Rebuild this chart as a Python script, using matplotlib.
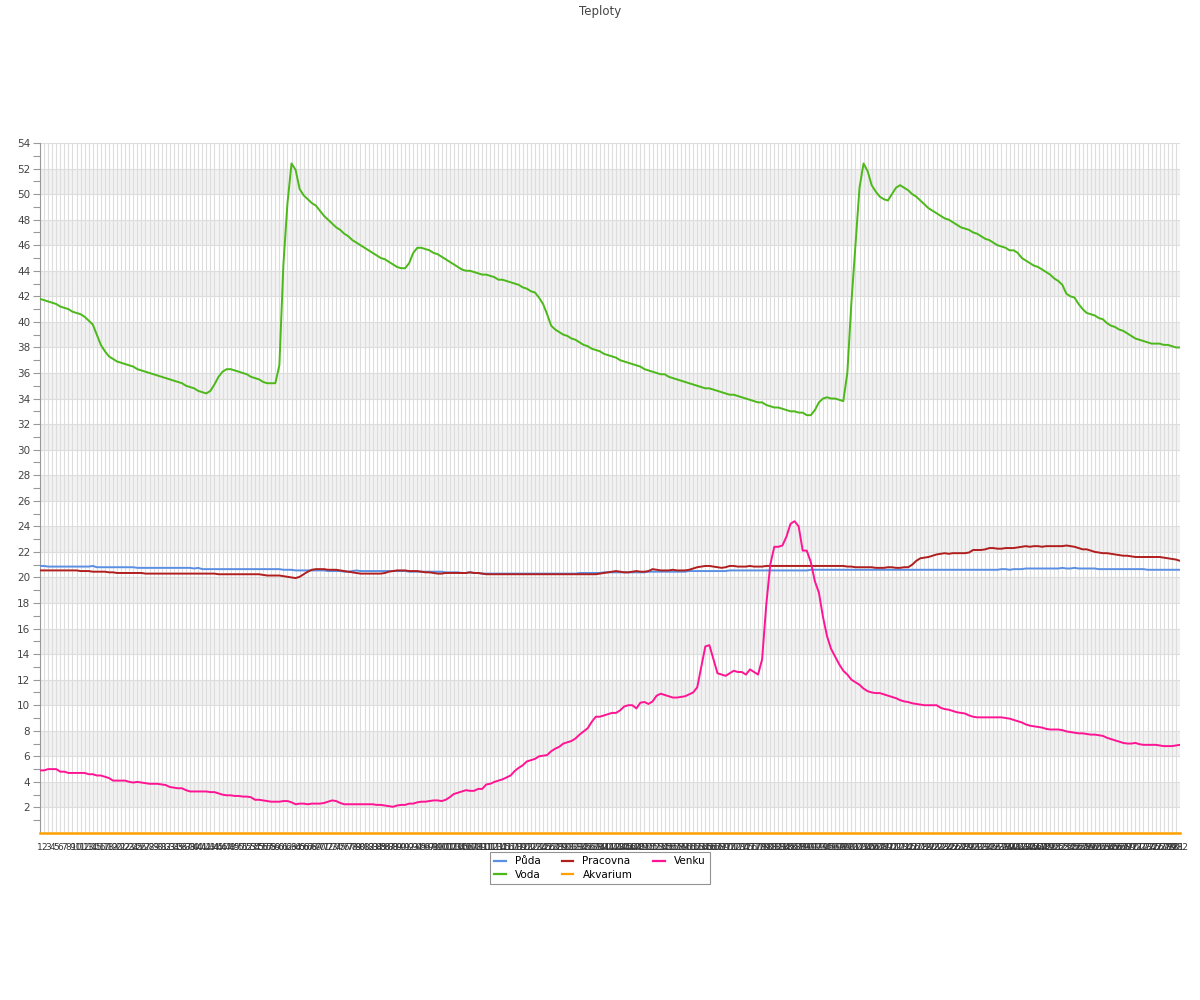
import matplotlib
matplotlib.use('Agg')
import matplotlib.pyplot as plt
from matplotlib.lines import Line2D

# ===========================================================
# Data
# ===========================================================
puda = [
    20.9, 20.9, 20.85, 20.85, 20.85, 20.85, 20.85, 20.85, 20.85, 20.85,
    20.85, 20.85, 20.85, 20.9, 20.8, 20.8, 20.8, 20.8, 20.8, 20.8,
    20.8, 20.8, 20.8, 20.8, 20.75, 20.75, 20.75, 20.75, 20.75, 20.75,
    20.75, 20.75, 20.75, 20.75, 20.75, 20.75, 20.75, 20.75, 20.7, 20.75,
    20.65, 20.65, 20.65, 20.65, 20.65, 20.65, 20.65, 20.65, 20.65, 20.65,
    20.65, 20.65, 20.65, 20.65, 20.65, 20.65, 20.65, 20.65, 20.65, 20.65,
    20.6, 20.6, 20.6, 20.55, 20.55, 20.55, 20.55, 20.55, 20.55, 20.55,
    20.55, 20.5, 20.5, 20.5, 20.5, 20.45, 20.45, 20.5, 20.55, 20.5,
    20.5, 20.5, 20.5, 20.5, 20.5, 20.5, 20.5, 20.5, 20.5, 20.5,
    20.5, 20.45, 20.45, 20.45, 20.45, 20.45, 20.45, 20.45, 20.45, 20.45,
    20.4, 20.4, 20.4, 20.4, 20.35, 20.35, 20.4, 20.35, 20.35, 20.3,
    20.3, 20.3, 20.3, 20.3, 20.3, 20.3, 20.3, 20.3, 20.3, 20.3,
    20.3, 20.3, 20.3, 20.3, 20.3, 20.3, 20.3, 20.3, 20.3, 20.3,
    20.3, 20.3, 20.3, 20.35, 20.35, 20.35, 20.35, 20.35, 20.35, 20.4,
    20.4, 20.4, 20.4, 20.4, 20.4, 20.4, 20.4, 20.4, 20.4, 20.4,
    20.45, 20.45, 20.45, 20.45, 20.45, 20.45, 20.45, 20.45, 20.45, 20.45,
    20.5, 20.5, 20.5, 20.5, 20.5, 20.5, 20.5, 20.5, 20.5, 20.5,
    20.55, 20.55, 20.55, 20.55, 20.55, 20.55, 20.55, 20.55, 20.55, 20.55,
    20.55, 20.55, 20.55, 20.55, 20.55, 20.55, 20.55, 20.55, 20.55, 20.55,
    20.6, 20.6, 20.6, 20.6, 20.6, 20.6, 20.6, 20.6, 20.6, 20.6,
    20.6, 20.6, 20.6, 20.6, 20.6, 20.6, 20.6, 20.6, 20.6, 20.6,
    20.6, 20.6, 20.6, 20.6, 20.6, 20.6, 20.6, 20.6, 20.6, 20.6,
    20.6, 20.6, 20.6, 20.6, 20.6, 20.6, 20.6, 20.6, 20.6, 20.6,
    20.6, 20.6, 20.6, 20.6, 20.6, 20.6, 20.6, 20.65, 20.65, 20.6,
    20.65, 20.65, 20.65, 20.7, 20.7, 20.7, 20.7, 20.7, 20.7, 20.7,
    20.7, 20.7, 20.75, 20.7, 20.7, 20.75, 20.7, 20.7, 20.7, 20.7,
    20.7, 20.65, 20.65, 20.65, 20.65, 20.65, 20.65, 20.65, 20.65, 20.65,
    20.65, 20.65, 20.65, 20.6, 20.6, 20.6, 20.6, 20.6, 20.6, 20.6,
    20.6, 20.6,
]

voda = [
    41.8, 41.7, 41.6, 41.5, 41.4, 41.2, 41.1, 41.0, 40.8, 40.7,
    40.6, 40.4, 40.1, 39.8, 39.0, 38.2, 37.7, 37.3, 37.1, 36.9,
    36.8, 36.7, 36.6, 36.5, 36.3, 36.2, 36.1, 36.0, 35.9, 35.8,
    35.7, 35.6, 35.5, 35.4, 35.3, 35.2, 35.0, 34.9, 34.8, 34.6,
    34.5, 34.4, 34.6, 35.1, 35.7, 36.1, 36.3, 36.3, 36.2, 36.1,
    36.0, 35.9, 35.7, 35.6, 35.5, 35.3, 35.2, 35.2, 35.2, 36.6,
    44.5, 49.3, 52.4, 51.9, 50.4, 49.9, 49.6, 49.3, 49.1, 48.7,
    48.3, 48.0, 47.7, 47.4, 47.2, 46.9, 46.7, 46.4, 46.2, 46.0,
    45.8, 45.6, 45.4, 45.2, 45.0, 44.9, 44.7, 44.5, 44.3, 44.2,
    44.2, 44.6, 45.4, 45.8, 45.8, 45.7, 45.6, 45.4, 45.3, 45.1,
    44.9, 44.7, 44.5, 44.3, 44.1, 44.0, 44.0, 43.9, 43.8, 43.7,
    43.7, 43.6, 43.5, 43.3, 43.3, 43.2, 43.1, 43.0, 42.9, 42.7,
    42.6, 42.4, 42.3, 41.9, 41.4, 40.6, 39.7, 39.4, 39.2, 39.0,
    38.9, 38.7, 38.6, 38.4, 38.2, 38.1, 37.9, 37.8, 37.7, 37.5,
    37.4, 37.3, 37.2, 37.0, 36.9, 36.8, 36.7, 36.6, 36.5, 36.3,
    36.2, 36.1, 36.0, 35.9, 35.9, 35.7, 35.6, 35.5, 35.4, 35.3,
    35.2, 35.1, 35.0, 34.9, 34.8, 34.8, 34.7, 34.6, 34.5, 34.4,
    34.3, 34.3, 34.2, 34.1, 34.0, 33.9, 33.8, 33.7, 33.7, 33.5,
    33.4, 33.3, 33.3, 33.2, 33.1, 33.0, 33.0, 32.9, 32.9, 32.7,
    32.7, 33.1, 33.7, 34.0, 34.1, 34.0, 34.0, 33.9, 33.8, 36.0,
    41.5, 46.0, 50.5, 52.4, 51.8, 50.7, 50.2, 49.8, 49.6, 49.5,
    50.0, 50.5, 50.7, 50.5, 50.3, 50.0, 49.8, 49.5, 49.2, 48.9,
    48.7, 48.5, 48.3, 48.1, 48.0, 47.8, 47.6, 47.4, 47.3, 47.2,
    47.0, 46.9, 46.7, 46.5, 46.4, 46.2, 46.0, 45.9, 45.8, 45.6,
    45.6, 45.4, 45.0, 44.8, 44.6, 44.4, 44.3, 44.1, 43.9, 43.7,
    43.4, 43.2, 42.9, 42.2, 42.0, 41.9, 41.4, 41.0, 40.7, 40.6,
    40.5, 40.3, 40.2, 39.9, 39.7, 39.6, 39.4, 39.3, 39.1, 38.9,
    38.7, 38.6, 38.5, 38.4, 38.3, 38.3, 38.3, 38.2, 38.2, 38.1,
    38.0, 38.0,
]

pracovna = [
    20.55, 20.55, 20.55, 20.55, 20.55, 20.55, 20.55, 20.55, 20.55, 20.55,
    20.5, 20.5, 20.5, 20.45, 20.45, 20.45, 20.45, 20.4, 20.4, 20.35,
    20.35, 20.35, 20.35, 20.35, 20.35, 20.35, 20.3, 20.3, 20.3, 20.3,
    20.3, 20.3, 20.3, 20.3, 20.3, 20.3, 20.3, 20.3, 20.3, 20.3,
    20.3, 20.3, 20.3, 20.3, 20.25, 20.25, 20.25, 20.25, 20.25, 20.25,
    20.25, 20.25, 20.25, 20.25, 20.25, 20.2, 20.15, 20.15, 20.15, 20.15,
    20.1, 20.05, 20.0, 19.95, 20.05, 20.25, 20.45, 20.6, 20.65, 20.65,
    20.65, 20.6, 20.6, 20.6, 20.55, 20.5, 20.45, 20.4, 20.35, 20.3,
    20.3, 20.3, 20.3, 20.3, 20.3, 20.35, 20.45, 20.5, 20.55, 20.55,
    20.55, 20.5, 20.5, 20.5, 20.45, 20.4, 20.4, 20.35, 20.3, 20.3,
    20.35, 20.35, 20.35, 20.35, 20.35, 20.35, 20.4, 20.35, 20.35, 20.3,
    20.25, 20.25, 20.25, 20.25, 20.25, 20.25, 20.25, 20.25, 20.25, 20.25,
    20.25, 20.25, 20.25, 20.25, 20.25, 20.25, 20.25, 20.25, 20.25, 20.25,
    20.25, 20.25, 20.25, 20.25, 20.25, 20.25, 20.25, 20.25, 20.3, 20.35,
    20.4, 20.45, 20.5, 20.45, 20.4, 20.4, 20.45, 20.5, 20.45, 20.45,
    20.5, 20.65, 20.6, 20.55, 20.55, 20.55, 20.6, 20.55, 20.55, 20.55,
    20.6, 20.7, 20.8, 20.85, 20.9, 20.9, 20.85, 20.8, 20.75, 20.8,
    20.9, 20.9, 20.85, 20.85, 20.85, 20.9, 20.85, 20.85, 20.85, 20.9,
    20.9, 20.9, 20.9, 20.9, 20.9, 20.9, 20.9, 20.9, 20.9, 20.9,
    20.9, 20.9, 20.9, 20.9, 20.9, 20.9, 20.9, 20.9, 20.9, 20.85,
    20.85, 20.8, 20.8, 20.8, 20.8, 20.8, 20.75, 20.75, 20.75, 20.8,
    20.8, 20.75, 20.75, 20.8, 20.8, 21.0, 21.3, 21.5, 21.55, 21.6,
    21.7, 21.8, 21.85, 21.9, 21.85, 21.9, 21.9, 21.9, 21.9, 21.95,
    22.15, 22.15, 22.15, 22.2, 22.3, 22.3, 22.25, 22.25, 22.3, 22.3,
    22.3, 22.35, 22.4, 22.45, 22.4, 22.45, 22.45, 22.4, 22.45, 22.45,
    22.45, 22.45, 22.45, 22.5, 22.45, 22.4, 22.3, 22.2, 22.2, 22.1,
    22.0, 21.95, 21.9, 21.9, 21.85, 21.8, 21.75, 21.7, 21.7, 21.65,
    21.6, 21.6, 21.6, 21.6, 21.6, 21.6, 21.6, 21.55, 21.5, 21.45,
    21.4, 21.3,
]

akvarium = [0.0] * len(voda)

venku = [
    4.9, 4.9, 5.0, 5.0, 5.0, 4.8, 4.8, 4.7, 4.7, 4.7,
    4.7, 4.7, 4.6, 4.6, 4.5, 4.5, 4.4, 4.3, 4.1, 4.1,
    4.1, 4.1, 4.0, 3.95, 4.0, 3.95, 3.9, 3.85, 3.85, 3.85,
    3.8, 3.75, 3.6, 3.55, 3.5, 3.5, 3.35, 3.25, 3.25, 3.25,
    3.25, 3.25, 3.2, 3.2, 3.1, 3.0, 2.95, 2.95, 2.9, 2.9,
    2.85, 2.85, 2.8, 2.6, 2.6, 2.55, 2.5, 2.45, 2.45, 2.45,
    2.5, 2.5, 2.4, 2.25, 2.3, 2.3, 2.25, 2.3, 2.3, 2.3,
    2.35, 2.45, 2.55, 2.5, 2.35, 2.25, 2.25, 2.25, 2.25, 2.25,
    2.25, 2.25, 2.25, 2.2, 2.2, 2.15, 2.1, 2.05, 2.15, 2.2,
    2.2, 2.3, 2.3, 2.4, 2.45, 2.45, 2.5, 2.55, 2.55, 2.5,
    2.6, 2.8, 3.05, 3.15, 3.25, 3.35, 3.3, 3.3, 3.45, 3.45,
    3.8, 3.85, 4.0, 4.1, 4.2, 4.35, 4.5, 4.85, 5.1, 5.3,
    5.6, 5.7, 5.8, 6.0, 6.05, 6.1, 6.4, 6.6, 6.75, 7.0,
    7.1, 7.2, 7.4, 7.7, 7.95, 8.2, 8.7, 9.1, 9.1, 9.2,
    9.3, 9.4, 9.4, 9.6, 9.9, 10.0, 10.0, 9.75, 10.2, 10.25,
    10.1, 10.3, 10.75, 10.9, 10.8, 10.7, 10.6, 10.6, 10.65, 10.7,
    10.85, 11.0, 11.4, 13.0, 14.6, 14.7, 13.6, 12.5, 12.4, 12.3,
    12.5, 12.7, 12.6, 12.6, 12.4, 12.8, 12.6, 12.4, 13.6, 17.8,
    21.0, 22.4, 22.4, 22.5, 23.2, 24.2, 24.4, 24.0, 22.1, 22.1,
    21.2, 19.7, 18.8, 16.9, 15.4, 14.4, 13.8, 13.2, 12.7, 12.4,
    12.0, 11.8, 11.6, 11.3, 11.1, 11.0, 10.95, 10.95, 10.85, 10.75,
    10.65, 10.55, 10.4, 10.3, 10.25, 10.15, 10.1, 10.05, 10.0, 10.0,
    10.0, 10.0, 9.8, 9.7, 9.65, 9.55, 9.45, 9.4, 9.35, 9.2,
    9.1, 9.05, 9.05, 9.05, 9.05, 9.05, 9.05, 9.05, 9.0, 8.95,
    8.85, 8.75, 8.65, 8.5, 8.4, 8.35, 8.3, 8.25, 8.15, 8.1,
    8.1, 8.1, 8.05, 7.95, 7.9, 7.85, 7.8, 7.8, 7.75, 7.7,
    7.7, 7.65, 7.6, 7.45, 7.35, 7.25, 7.15, 7.05, 7.0, 7.0,
    7.05, 6.95, 6.9, 6.9, 6.9, 6.9, 6.85, 6.8, 6.8, 6.8,
    6.85, 6.9,
]

# category labels on the x axis (sample numbers)
labels = [str(n) for n in range(1, len(voda) + 1)]

series_names = ['Půda', 'Voda', 'Pracovna', 'Akvarium', 'Venku']
series_colors = ['#5b8fe3', '#4cb81a', '#b01e1e', '#ffa000', '#ff1493']
series_data = [puda, voda, pracovna, akvarium, venku]

# ===========================================================
# Figure
# ===========================================================
fig = plt.figure(figsize=(12, 10), dpi=100)
ax = fig.add_axes([40 / 1200, 167 / 1000, 1140 / 1200, 690 / 1000])

x = list(range(len(labels)))

# alternating grey bands
for lo in range(2, 54, 4):
    ax.axhspan(lo, lo + 2, color='#f2f2f2', zorder=0, lw=0)

ax.set_xlim(0, len(labels) - 1)
ax.set_ylim(0, 54)

ax.set_xticks(x)
ax.set_xticklabels(labels, fontsize=6.5, color='#333333')
ax.set_yticks(range(2, 55, 2))
ax.set_yticks(range(1, 55, 2), minor=True)
ax.tick_params(axis='y', which='both', length=5, width=0.8, color='#999999',
               labelsize=7.5, labelcolor='#444444', pad=2)
ax.tick_params(axis='x', length=0, pad=7)

ax.grid(True, axis='both', color='#dddddd', lw=0.8, zorder=1)
ax.set_axisbelow(True)

for s in ['top', 'right']:
    ax.spines[s].set_visible(False)
ax.spines['left'].set_color('#999999')
ax.spines['bottom'].set_color('#999999')

for name, col, vals in zip(series_names, series_colors, series_data):
    is_base = (name == 'Akvarium')
    ax.plot(x, vals, color=col, lw=1.8 if is_base else 1.4, label=name,
            zorder=4 if is_base else 3, clip_on=not is_base)

handles = [Line2D([0], [0], color=c, lw=1.6) for c in series_colors]
leg = fig.legend(handles, series_names, loc='upper center',
                 bbox_to_anchor=(0.5, 0.153), ncol=3, fontsize=7.5,
                 frameon=True, fancybox=False, edgecolor='#777777',
                 handlelength=1.1, handletextpad=0.9, columnspacing=2.0,
                 borderpad=0.4, labelspacing=0.3)
leg.get_frame().set_linewidth(0.8)

fig.text(0.5, 1 - 11 / 1000, 'Teploty', ha='center', va='center',
         fontsize=8.5, color='#444444')

fig.savefig('out.png', dpi=100)
